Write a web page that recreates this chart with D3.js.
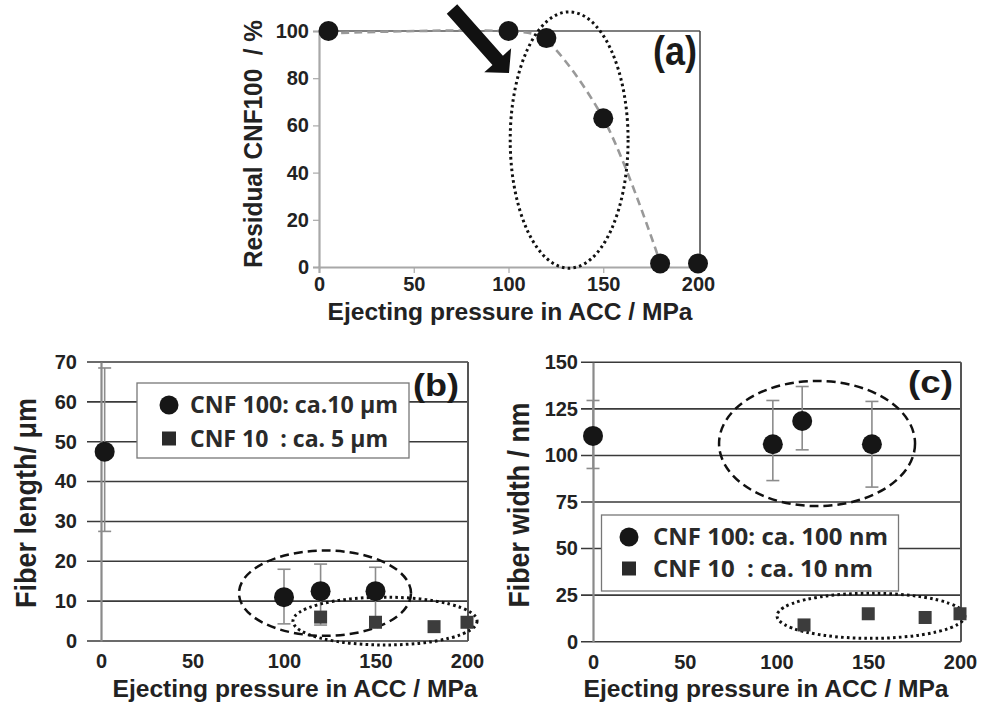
<!DOCTYPE html>
<html><head><meta charset="utf-8">
<script src="https://cdn.jsdelivr.net/npm/d3@7/dist/d3.min.js"></script>
<style>body{margin:0;background:#fff}svg{display:block}</style>
</head><body>
<svg id="chart" width="982" height="706"></svg>
<script>
// ---------------- data ----------------
const pressureA = [5, 100, 120, 150, 180, 200];
const residualA = [100, 100, 97, 63, 1.5, 1.5];
const trendPressureA = [5, 112, 120, 150, 180];
const trendResidualA = [99, 99, 96, 63, 2];
const xTicksA = [0, 50, 100, 150, 200];
const yTicksA = [0, 20, 40, 60, 80, 100];

const pressureB100 = [2, 100, 120, 150];
const lengthB100 = [47.5, 11, 12.5, 12.5];
const lengthB100Hi = [68.5, 18, 19.3, 18.5];
const lengthB100Lo = [27.5, 4.3, 4, 6];
const pressureB10 = [120, 150, 182, 200];
const lengthB10 = [6, 4.7, 3.6, 4.7];
const xTicksB = [0, 50, 100, 150, 200];
const yTicksB = [0, 10, 20, 30, 40, 50, 60, 70];

const pressureC100 = [0, 98, 114, 152];
const widthC100 = [110.5, 106, 118.5, 106];
const widthC100Hi = [129.5, 129.5, 137, 129];
const widthC100Lo = [93, 86.5, 103, 83];
const pressureC10 = [115, 150, 181, 200];
const widthC10 = [9, 15, 13, 15];
const xTicksC = [0, 50, 100, 150, 200];
const yTicksC = [0, 25, 50, 75, 100, 125, 150];

const legendB = ["CNF 100: ca.10 \u03bcm", "CNF 10  : ca. 5 \u03bcm"];
const legendC = ["CNF 100: ca. 100 nm", "CNF 10  : ca. 10 nm"];
const xTitle = "Ejecting pressure in ACC / MPa";
const yTitleA = "Residual CNF100  / %";
const yTitleB = "Fiber length/ \u03bcm";
const yTitleC = "Fiber width / nm";

// ---------------- drawing ----------------
const svg = d3.select("#chart");
const FONT = "'Liberation Sans', Arial, sans-serif";
const LFONT = "'Open Sans', 'Noto Sans', sans-serif";
const TXT = "#222";

function ellipse(g, x, y, cx, cy, rx, ry, style) {
  g.append("ellipse")
    .attr("cx", x(cx)).attr("cy", y(cy))
    .attr("rx", Math.abs(x(cx + rx) - x(cx))).attr("ry", Math.abs(y(cy + ry) - y(cy)))
    .attr("fill", "none").attr("stroke", "#111")
    .attr("stroke-width", style === "dot" ? 3 : 2.5)
    .attr("stroke-dasharray", style === "dot" ? "2.6,3.2" : "9,5");
}

function yTitle(text, xb, yc, size, len) {
  svg.append("text").text(text)
    .attr("transform", `translate(${xb},${yc}) rotate(-90)`)
    .attr("text-anchor", "middle").attr("font-family", FONT).attr("font-weight", "bold")
    .attr("font-size", size).attr("fill", TXT).style("white-space", "pre")
    .attr("textLength", len).attr("lengthAdjust", "spacingAndGlyphs");
}
function xTitleText(xc, yb) {
  svg.append("text").text(xTitle)
    .attr("x", xc).attr("y", yb).attr("text-anchor", "middle")
    .attr("font-family", FONT).attr("font-weight", "bold").attr("font-size", 23).attr("fill", TXT)
    .attr("textLength", 365).attr("lengthAdjust", "spacingAndGlyphs");
}
function panelLabel(text, x0, yb, size, len) {
  svg.append("text").text(text).attr("x", x0).attr("y", yb)
    .attr("font-family", FONT).attr("font-weight", "bold").attr("font-size", size).attr("fill", "#1a1a1a")
    .attr("textLength", len).attr("lengthAdjust", "spacingAndGlyphs");
}

// ===== Panel (a) =====
{
  const x = d3.scaleLinear().domain([0, 200]).range([319, 698]);
  const y = d3.scaleLinear().domain([0, 100]).range([267, 31]);
  const g = svg.append("g");
  g.append("line").attr("x1", x(0)).attr("x2", 700).attr("y1", y(100)).attr("y2", y(100)).attr("stroke", "#555").attr("stroke-width", 1.5);
  g.append("line").attr("x1", 700).attr("x2", 700).attr("y1", y(100)).attr("y2", y(0)).attr("stroke", "#444").attr("stroke-width", 1.5);
  const ya = d3.axisLeft(y).tickValues(yTicksA).tickSize(6).tickPadding(4);
  const yg = g.append("g").attr("transform", `translate(${x(0)},0)`).call(ya);
  const xa = d3.axisBottom(x).tickValues(xTicksA).tickSize(6).tickPadding(4);
  const xg = g.append("g").attr("transform", `translate(0,${y(0)})`).call(xa);
  [yg, xg].forEach(a => {
    a.select(".domain").attr("stroke", "#a8a8a8").attr("stroke-width", 2.2);
    a.selectAll(".tick line").attr("stroke", "#a8a8a8").attr("stroke-width", 1.2);
    a.selectAll(".tick text").attr("font-family", FONT).attr("font-weight", "bold").attr("font-size", 20).attr("fill", TXT);
  });
  xg.selectAll(".tick line").filter(d => d === 0 || d === 200).remove();
  const trend = trendPressureA.map((p, i) => [p, trendResidualA[i]]);
  g.append("path").datum(trend)
    .attr("d", d3.line().x(d => x(d[0])).y(d => y(d[1])).curve(d3.curveCatmullRom.alpha(0.5)))
    .attr("fill", "none").attr("stroke", "#999").attr("stroke-width", 2.6).attr("stroke-dasharray", "8,5");
  ellipse(g, x, y, 132, 53.8, 31.1, 54.3, "dot");
  g.selectAll("circle.pt").data(pressureA).join("circle").attr("class", "pt")
    .attr("cx", d => x(d)).attr("cy", (d, i) => y(residualA[i])).attr("r", 10).attr("fill", "#161616");
  // arrow
  const S = [452, 9], T = [509, 73];
  const dx = T[0] - S[0], dy = T[1] - S[1], L = Math.hypot(dx, dy);
  const ux = dx / L, uy = dy / L, px = -uy, py = ux;
  const hw = 7, headW = 18, headL = 17;
  const B = [T[0] - ux * headL, T[1] - uy * headL];
  const pts = [
    [S[0] + px * hw, S[1] + py * hw], [B[0] + px * hw, B[1] + py * hw], [B[0] + px * headW, B[1] + py * headW],
    T, [B[0] - px * headW, B[1] - py * headW], [B[0] - px * hw, B[1] - py * hw], [S[0] - px * hw, S[1] - py * hw]
  ];
  g.append("polygon").attr("points", pts.map(p => p.join(",")).join(" ")).attr("fill", "#111");
  panelLabel("(a)", 653, 65, 40, 44);
  yTitle(yTitleA, 262, 144, 25, 248);
  xTitleText(510, 320);
}

function gridPanel(cfg) {
  const x = d3.scaleLinear().domain([0, 200]).range(cfg.xr);
  const y = d3.scaleLinear().domain([0, cfg.ymax]).range(cfg.yr);
  const g = svg.append("g");
  g.selectAll("line.grid").data(cfg.yTicks).join("line").attr("class", "grid")
    .attr("x1", cfg.gridLeft).attr("x2", cfg.right).attr("y1", d => y(d)).attr("y2", d => y(d))
    .attr("stroke", "#3a3a3a").attr("stroke-width", 1.6);
  g.append("line").attr("x1", cfg.right).attr("x2", cfg.right).attr("y1", y(cfg.ymax)).attr("y2", y(0))
    .attr("stroke", "#555").attr("stroke-width", 2);
  const ya = d3.axisLeft(y).tickValues(cfg.yTicks).tickSize(0).tickPadding(x(0) - cfg.labelRight);
  const yg = g.append("g").attr("transform", `translate(${x(0)},0)`).call(ya);
  yg.select(".domain").attr("stroke", "#8a8a8a").attr("stroke-width", 2.2);
  yg.selectAll(".tick text").attr("font-family", FONT).attr("font-weight", "bold").attr("font-size", 20).attr("fill", TXT);
  const xa = d3.axisBottom(x).tickValues(cfg.xTicks).tickSize(0).tickPadding(13);
  const xg = g.append("g").attr("transform", `translate(0,${y(0)})`).call(xa);
  xg.select(".domain").remove();
  xg.selectAll(".tick text").attr("font-family", FONT).attr("font-weight", "bold").attr("font-size", 20).attr("fill", TXT);
  return { x, y, g };
}

function errorBars(g, x, y, xs, lo, hi, cap) {
  const eb = g.append("g").attr("stroke", "#8c8c8c").attr("stroke-width", 1.6);
  xs.forEach((p, i) => {
    eb.append("line").attr("x1", x(p)).attr("x2", x(p)).attr("y1", y(lo[i])).attr("y2", y(hi[i]));
    [lo[i], hi[i]].forEach(v => eb.append("line").attr("x1", x(p) - cap / 2).attr("x2", x(p) + cap / 2).attr("y1", y(v)).attr("y2", y(v)));
  });
}

function legend(g, box, rows, textX, baselines, widths, markerX) {
  g.append("rect").attr("x", box[0]).attr("y", box[1]).attr("width", box[2]).attr("height", box[3])
    .attr("fill", "#fff").attr("stroke", "#777").attr("stroke-width", 1.3);
  g.append("circle").attr("cx", markerX).attr("cy", baselines[0] - 8).attr("r", 9.5).attr("fill", "#161616");
  g.append("rect").attr("x", markerX - 7).attr("y", baselines[1] - 15).attr("width", 14).attr("height", 14).attr("fill", "#2a2a2a");
  rows.forEach((t, i) => {
    g.append("text").text(t).attr("x", textX).attr("y", baselines[i])
      .attr("font-family", LFONT).attr("font-weight", 700).attr("font-size", 23).attr("fill", "#2a2a2a")
      .style("white-space", "pre").attr("textLength", widths[i]).attr("lengthAdjust", "spacingAndGlyphs");
  });
}

// ===== Panel (b) =====
{
  const { x, y, g } = gridPanel({ xr: [101, 467], yr: [641, 362], ymax: 70, yTicks: yTicksB, xTicks: xTicksB,
    gridLeft: 87, right: 468, labelRight: 77 });
  errorBars(g, x, y, pressureB100, lengthB100Lo, lengthB100Hi, 13);
  ellipse(g, x, y, 122.4, 12.0, 47, 10.7, "dash");
  ellipse(g, x, y, 155.2, 5.0, 50.3, 6.0, "dot");
  g.selectAll("rect.sq").data(pressureB10).join("rect").attr("class", "sq")
    .attr("x", d => x(d) - 6.5).attr("y", (d, i) => y(lengthB10[i]) - 6.5).attr("width", 13).attr("height", 13).attr("fill", "#3c3c3c");
  g.selectAll("circle.pt").data(pressureB100).join("circle").attr("class", "pt")
    .attr("cx", d => x(d)).attr("cy", (d, i) => y(lengthB100[i])).attr("r", 10).attr("fill", "#161616");
  legend(g, [137, 383, 272, 75], legendB, 190, [413, 446.5], [208, 198], 169);
  panelLabel("(b)", 413, 396, 31, 46);
  yTitle(yTitleB, 36, 503, 29, 210);
  xTitleText(295, 697);
}

// ===== Panel (c) =====
{
  const { x, y, g } = gridPanel({ xr: [593, 960], yr: [641.7, 362.3], ymax: 150, yTicks: yTicksC, xTicks: xTicksC,
    gridLeft: 581, right: 961, labelRight: 578 });
  errorBars(g, x, y, pressureC100, widthC100Lo, widthC100Hi, 13);
  ellipse(g, x, y, 122.1, 106.4, 53.4, 33.6, "dash");
  ellipse(g, x, y, 151.5, 13.9, 51.2, 12.1, "dot");
  g.selectAll("rect.sq").data(pressureC10).join("rect").attr("class", "sq")
    .attr("x", d => x(d) - 6.5).attr("y", (d, i) => y(widthC10[i]) - 6.5).attr("width", 13).attr("height", 13).attr("fill", "#3c3c3c");
  g.selectAll("circle.pt").data(pressureC100).join("circle").attr("class", "pt")
    .attr("cx", d => x(d)).attr("cy", (d, i) => y(widthC100[i])).attr("r", 10).attr("fill", "#161616");
  legend(g, [601.5, 515, 297, 76], legendC, 653, [545, 576.5], [235, 220], 629);
  panelLabel("(c)", 908, 393, 32, 45);
  yTitle(yTitleC, 529, 505, 29, 205);
  xTitleText(766, 697);
}
</script>
</body></html>
